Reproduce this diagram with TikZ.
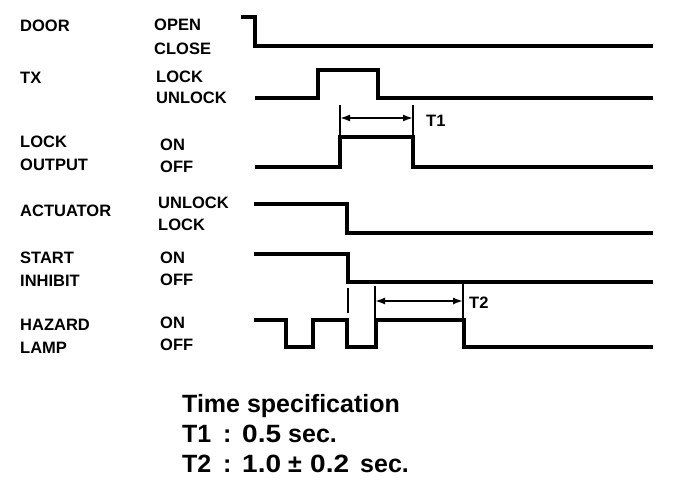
\documentclass[tikz,border=0pt]{standalone}
\usepackage{graphicx}
\usepackage{fontspec}
\setmainfont{Liberation Sans}
\usetikzlibrary{arrows.meta}
\newcommand{\widenum}[1]{\scalebox{1.12}[1]{#1}}
\begin{document}
\begin{tikzpicture}[x=1pt,y=-1pt,
  wave/.style={line width=3.2pt, line join=miter},
  guide/.style={line width=1.5pt},
  dimline/.style={line width=1.8pt, {Latex[length=10pt,width=7pt]}-{Latex[length=10pt,width=7pt]}},
  sig/.style={anchor=base west, inner sep=0pt, font=\fontsize{16.5}{18}\selectfont\bfseries},
  lvl/.style={anchor=base west, inner sep=0pt, font=\fontsize{16.5}{18}\selectfont\bfseries},
  spec/.style={anchor=base west, inner sep=0pt, font=\fontsize{25}{28}\selectfont\bfseries}]
\useasboundingbox (0,0) rectangle (688,492);

% signal names
\node[sig] (door) at (20,32) {DOOR};
\node[sig] (tx) at (20,84) {TX};
\node[sig] (lock1) at (20,148) {LOCK};
\node[sig] (lock2) at (20,170) {OUTPUT};
\node[sig] (act) at (20,216) {ACTUATOR};
\node[sig] (st1) at (20,263) {START};
\node[sig] (st2) at (20,286) {INHIBIT};
\node[sig] (hz1) at (20,330) {HAZARD};
\node[sig] (hz2) at (20,353) {LAMP};

% levels
\node[lvl] (open) at (154,31) {OPEN};
\node[lvl] (close) at (154,55) {CLOSE};
\node[lvl] (txl) at (156,83) {LOCK};
\node[lvl] (txu) at (156,104) {UNLOCK};
\node[lvl] (loon) at (160,150) {ON};
\node[lvl] (looff) at (160,172) {OFF};
\node[lvl] (acu) at (158,208) {UNLOCK};
\node[lvl] (acl) at (158,230) {LOCK};
\node[lvl] (ston) at (160,263) {ON};
\node[lvl] (stoff) at (160,285) {OFF};
\node[lvl] (hzon) at (160,328) {ON};
\node[lvl] (hzoff) at (160,350) {OFF};

% waveforms
\draw[wave] (241,17) -- (255,17) -- (255,46) -- (653,46);
\draw[wave] (255,98) -- (318,98) -- (318,70) -- (378,70) -- (378,98) -- (653,98);
\draw[wave] (255,167) -- (340,167) -- (340,137) -- (413,137) -- (413,167) -- (653,167);
\draw[wave] (254,204) -- (347,204) -- (347,233) -- (653,233);
\draw[wave] (254,254) -- (348,254) -- (348,282) -- (653,282);
\draw[wave] (254,320) -- (286,320) -- (286,347) -- (313,347) -- (313,320)
  -- (347,320) -- (347,347) -- (376,347) -- (376,320) -- (464,320) -- (464,347) -- (653,347);

% T1
\coordinate (t1a) at (340,105);
\coordinate (t1b) at (413,105);
\draw[guide] (t1a) -- (340,137);
\draw[guide] (t1b) -- (413,137);
\coordinate (t1l) at (340,118);
\coordinate (t1r) at (413,118);
\draw[dimline] (t1l) -- (t1r);
\node[lvl] (t1) at (426,127) {T1};

% T2
\draw[guide] (348,288) -- (348,313);
\draw[guide] (375,286) -- (375,320);
\draw[guide] (463,284) -- (463,320);
\coordinate (t2l) at (375,301);
\coordinate (t2r) at (463,301);
\draw[dimline] (t2l) -- (t2r);
\node[lvl] (t2) at (469,308) {T2};

% specification
\node[spec] (sp) at (182,412) {Time specification};
\node[spec] (sp1) at (182,442) {T1};
\node[spec] (c1) at (223,442) {:};
\node[spec] (v1) at (242,442) {\widenum{0.5}};
\node[spec] (s1) at (288,442) {sec.};
\node[spec] (sp2) at (182,472) {T2};
\node[spec] (c2) at (223,472) {:};
\node[spec] (v2a) at (242,472) {\widenum{1.0}};
\node[spec] (pm) at (288,472) {±};
\node[spec] (v2b) at (310,472) {\widenum{0.2}};
\node[spec] (s2) at (360,472) {sec.};
\end{tikzpicture}
\end{document}
